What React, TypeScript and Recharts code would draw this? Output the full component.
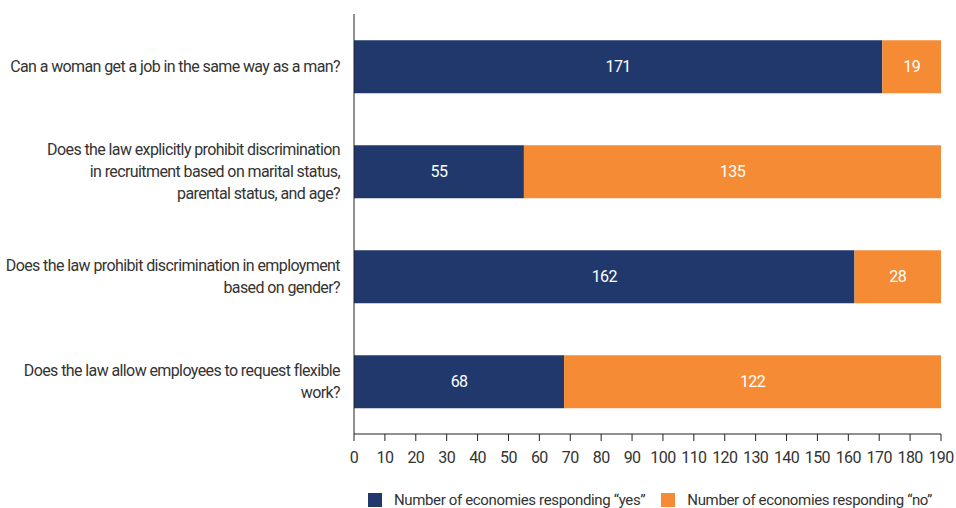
import { BarChart, Bar, XAxis, YAxis, LabelList, Legend } from 'recharts'

const categories = [
  'Can a woman get a job in the same way as a man?',
  'Does the law explicitly prohibit discrimination\nin recruitment based on marital status,\nparental status, and age?',
  'Does the law prohibit discrimination in employment\nbased on gender?',
  'Does the law allow employees to request flexible\nwork?',
]
const yesValues = [171, 55, 162, 68]
const noValues = [19, 135, 28, 122]
const xTicks = [0, 10, 20, 30, 40, 50, 60, 70, 80, 90, 100, 110, 120, 130, 140, 150, 160, 170, 180, 190]
const bandTicks = [0, 1, 2, 3, 4]

const seriesNames = ['Number of economies responding \u201cyes\u201d', 'Number of economies responding \u201cno\u201d']

const NAVY = '#20386c'
const ORANGE = '#f68b35'
const FONT = 'Roboto, "Liberation Sans", sans-serif'
const LS = -0.6

const data = categories.map((c, i) => ({ name: c, yes: yesValues[i], no: noValues[i] }))

// multi-line right-aligned question labels
const CategoryTick = (props: any) => {
  const { x, y, payload } = props
  const lines: string[] = String(payload.value).split('\n')
  const lh = 22
  const start = y - ((lines.length - 1) * lh) / 2
  return (
    <text x={x} y={start} textAnchor="end" fill="#333" fontSize={16} fontFamily={FONT} letterSpacing={LS}>
      {lines.map((l, i) => (
        <tspan key={i} x={x} y={start + i * lh} dy="0.35em">
          {l}
        </tspan>
      ))}
    </text>
  )
}

const LegendContent = () => (
  <div
    style={{
      marginLeft: 354,
      width: 592,
      height: 20,
      display: 'flex',
      justifyContent: 'center',
      alignItems: 'center',
      gap: 16,
      fontFamily: FONT,
      fontSize: 15,
      letterSpacing: -0.35,
      color: '#333',
      whiteSpace: 'nowrap',
      transform: 'translateY(2px)',
    }}
  >
    {[NAVY, ORANGE].map((c, i) => (
      <div key={i} style={{ display: 'flex', alignItems: 'center' }}>
        <span style={{ width: 14, height: 14, background: c, display: 'inline-block', marginRight: 12 }} />
        <span>{seriesNames[i]}</span>
      </div>
    ))}
  </div>
)

export default function App() {
  return (
    <div style={{ position: 'absolute', left: 0, top: 0, width: 956, height: 508 }}>
      <BarChart
        width={956}
        height={508}
        data={data}
        layout="vertical"
        margin={{ top: 14, right: 15, left: 0, bottom: 0 }}
        barCategoryGap="25%"
      >
        <XAxis
          type="number"
          domain={[0, 190]}
          ticks={xTicks}
          interval={0}
          height={54}
          stroke="#222"
          tickSize={7}
          tick={{ fill: '#333', fontSize: 16, fontFamily: FONT, letterSpacing: LS }}
          tickMargin={11}
        />
        <YAxis
          yAxisId="grid"
          type="number"
          domain={[0, 4]}
          ticks={bandTicks}
          reversed
          width={0}
          tick={false}
          axisLine={false}
          tickSize={7}
          stroke="#222"
        />
        <YAxis
          yAxisId="cat"
          type="category"
          dataKey="name"
          width={354}
          stroke="#222"
          tickLine={false}
          tick={<CategoryTick />}
          tickMargin={8}
          interval={0}
        />
        <Legend verticalAlign="bottom" content={<LegendContent />} />
        <Bar yAxisId="cat" dataKey="yes" stackId="a" fill={NAVY} name={seriesNames[0]} isAnimationActive={false}>
          <LabelList dataKey="yes" position="center" fill="#fff" fontSize={16} fontFamily={FONT} letterSpacing={LS} />
        </Bar>
        <Bar yAxisId="cat" dataKey="no" stackId="a" fill={ORANGE} name={seriesNames[1]} isAnimationActive={false}>
          <LabelList dataKey="no" position="center" fill="#fff" fontSize={16} fontFamily={FONT} letterSpacing={LS} />
        </Bar>
      </BarChart>
    </div>
  )
}
